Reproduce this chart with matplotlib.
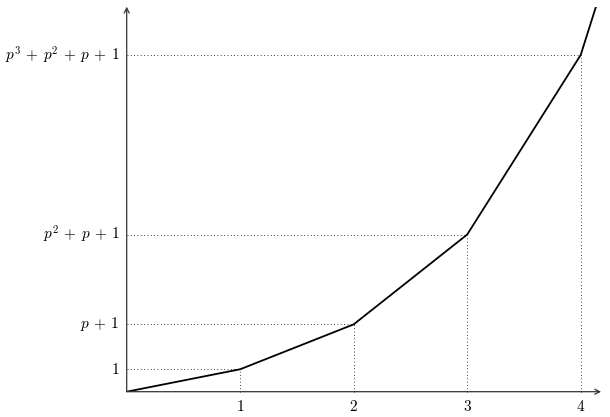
import numpy as np
import matplotlib.pyplot as plt

plt.rcParams['mathtext.fontset'] = 'cm'

# data: partial sums 1 + p + ... with p = 2
xs = [0, 1, 2, 3, 4, 5]
ys = [0, 1, 3, 7, 15, 31]
x_ticks = [1, 2, 3, 4]
x_labels = ['$1$', '$2$', '$3$', '$4$']
y_ticks = [1, 3, 7, 15]
y_labels = ['$1$', '$p+1$', '$p^2+p+1$', '$p^3+p^2+p+1$']

# mathtext packs '+' tighter than TeX, widen it a bit
def tex_plus(s):
    return s.replace('+', r'\hspace{0.2}+\hspace{0.2}')

W, H = 610, 417
fig = plt.figure(figsize=(W / 100, H / 100), dpi=100)

ox, oy = 126.7, 391.7      # origin in pixels
sx, sy = 113.5, 22.45      # pixels per unit
xmax, ymax = 4.18, 17.15
ax = fig.add_axes([ox / W, (H - oy) / H, xmax * sx / W, ymax * sy / H])
ax.set_xlim(0, xmax)
ax.set_ylim(0, ymax)
ax.axis('off')

# dotted guides
for x, y in zip(xs[1:5], ys[1:5]):
    ax.plot([0, x], [y, y], color='black', lw=0.6, ls=(0, (1, 3)), clip_on=False)
    ax.plot([x, x], [0, y], color='black', lw=0.6, ls=(0, (1, 3)), clip_on=False)

# curve
ax.plot(xs, ys, color='black', lw=1.3, solid_joinstyle='round', zorder=3)

# axes with arrows
ax.annotate('', xy=(xmax, 0), xytext=(0, 0), xycoords='data',
            arrowprops=dict(arrowstyle='->', color='#333333', lw=0.9,
                            shrinkA=0, shrinkB=0, mutation_scale=9),
            annotation_clip=False)
ax.annotate('', xy=(0, ymax), xytext=(0, 0), xycoords='data',
            arrowprops=dict(arrowstyle='->', color='#333333', lw=0.9,
                            shrinkA=0, shrinkB=0, mutation_scale=9),
            annotation_clip=False)

# labels
for x, lab in zip(x_ticks, x_labels):
    ax.annotate(lab, xy=(x, 0), xytext=(0, -5.5), textcoords='offset points',
                ha='center', va='top', fontsize=11, annotation_clip=False)
for y, lab in zip(y_ticks, y_labels):
    ax.annotate(tex_plus(lab), xy=(0, y), xytext=(-5, 0), textcoords='offset points',
                ha='right', va='center', fontsize=11, annotation_clip=False)

fig.savefig('out.png', dpi=100)
